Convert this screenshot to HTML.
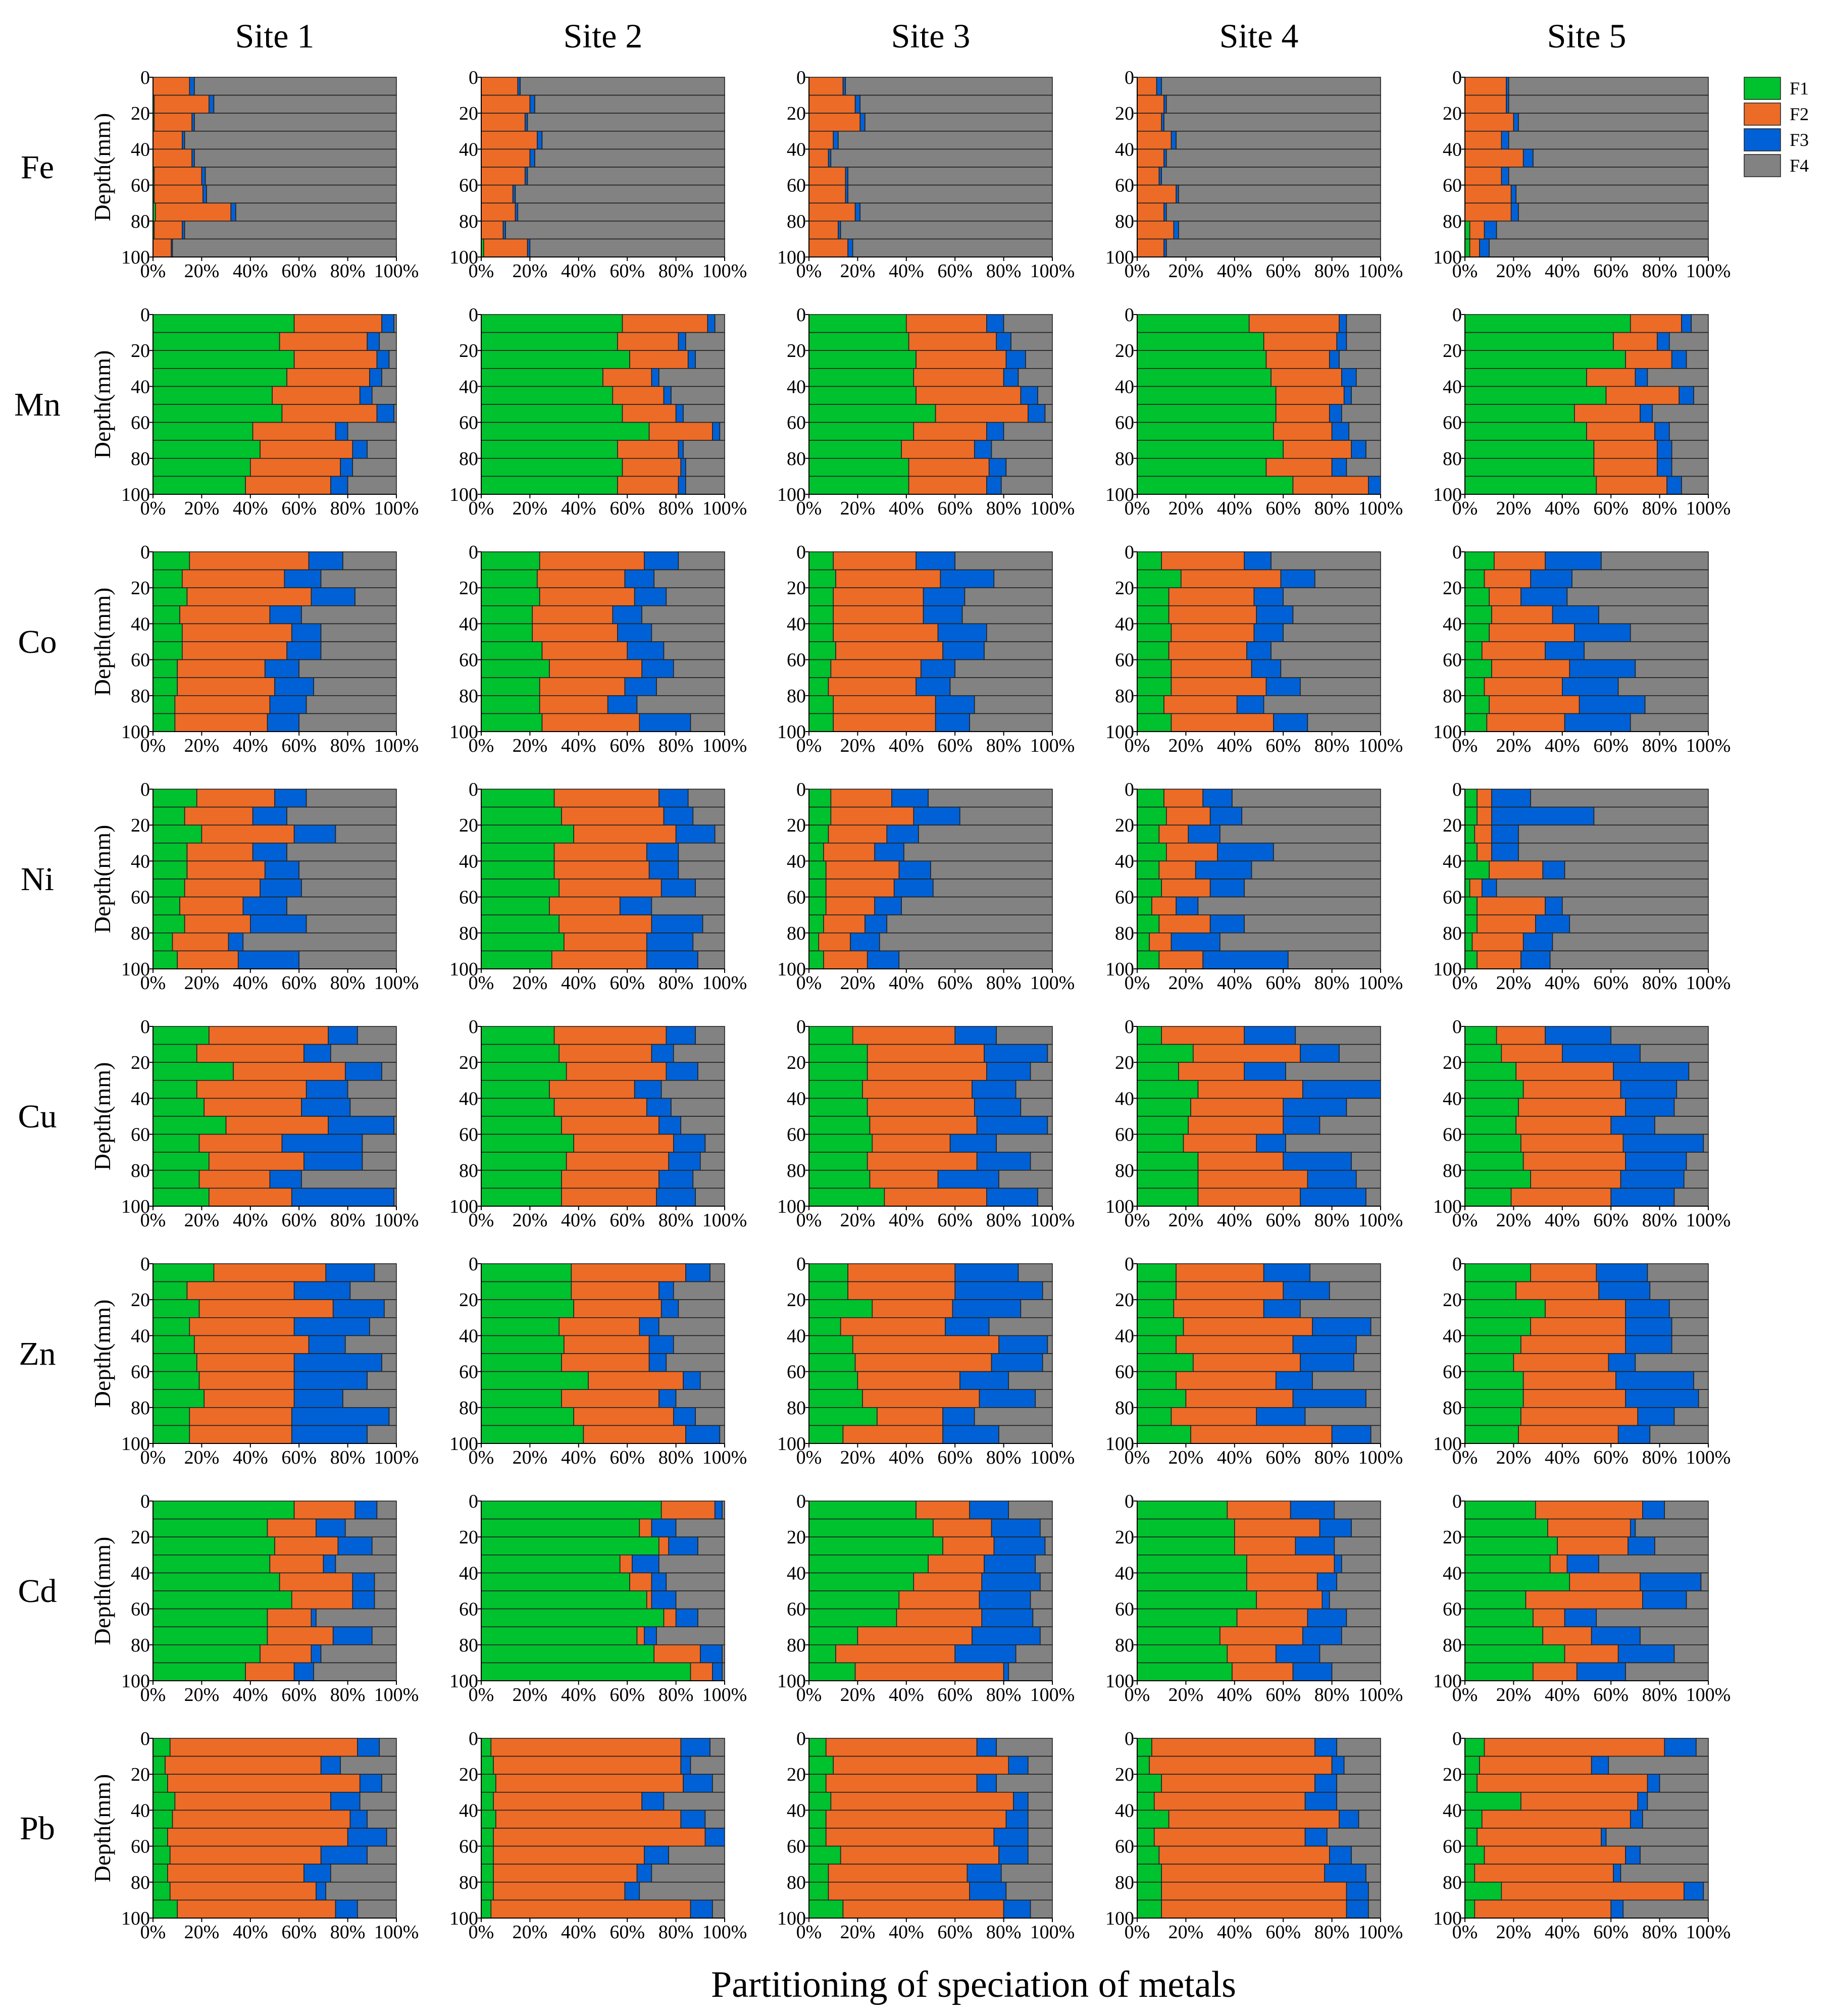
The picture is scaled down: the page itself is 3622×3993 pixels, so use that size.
<!DOCTYPE html>
<html><head><meta charset="utf-8"><style>
html,body{margin:0;padding:0;background:#fff;}
svg{display:block;font-family:"Liberation Serif",serif;}
</style></head><body>
<svg id="chart" width="3622" height="3993" viewBox="0 0 3622 3993" xmlns="http://www.w3.org/2000/svg"></svg>
<script>
// Cumulative percentages per bar: [end of F1, end of F2, end of F3]; F4 fills to 100%
const sites = ["Site 1","Site 2","Site 3","Site 4","Site 5"];
const metals = ["Fe","Mn","Co","Ni","Cu","Zn","Cd","Pb"];
const depthTicks = [0,20,40,60,80,100];
const pctTicks = ["0%","20%","40%","60%","80%","100%"];
const fractions = ["F1","F2","F3","F4"];
const fe = [
 [[0,15,17],[0.5,23,25],[0.5,16,17],[0,12,13],[0,16,17],[0.5,20,21.5],[0.5,20.5,22],[1,32,34],[0.5,12,13],[0,7.5,8]],
 [[0,15,16],[0,20,22],[0,18,19],[0,23,25],[0,20,22],[0,18,19],[0,13,14],[0,14,15],[0,9,10],[1,19,20]],
 [[0,14,15],[0,19,21],[0,21,23],[0,10,12],[0,8,9],[0,15,16],[0,15,16],[0,19,21],[0,12,13],[0,16,18]],
 [[0,8,10],[0,11,12],[0,10,11],[0,14,16],[0,11,12],[0,9,10],[0,16,17],[0,11,12],[0,15,17],[0,11,12]],
 [[0,17,18],[0,17,18],[0,20,22],[0,15,18],[0,24,28],[0,15,18],[0,19,21],[0,19,22],[2,8,13],[2,6,10]]];
const mn = [
 [[58,94,99],[52,88,93],[58,92,97],[55,89,94],[49,85,90],[53,92,99],[41,75,80],[44,82,88],[40,77,82],[38,73,80]],
 [[58,93,96],[56,81,84],[61,85,88],[50,70,73],[54,75,78],[58,80,83],[69,95,98],[56,81,83],[58,82,84],[56,81,84]],
 [[40,73,80],[41,77,83],[44,81,89],[43,80,86],[44,87,94],[52,90,97],[43,73,80],[38,68,75],[41,74,81],[41,73,79]],
 [[46,83,86],[52,82,86],[53,79,83],[55,84,90],[57,85,88],[57,79,84],[56,80,87],[60,88,94],[53,80,86],[64,95,100]],
 [[68,89,93],[61,79,84],[66,85,91],[50,70,75],[58,88,94],[45,72,77],[50,78,84],[53,79,85],[53,79,85],[54,83,89]]];
const co = [
 [[15,64,78],[12,54,69],[14,65,83],[11,48,61],[12,57,69],[12,55,69],[10,46,60],[10,50,66],[9,48,63],[9,47,60]],
 [[24,67,81],[23,59,71],[24,63,76],[21,54,66],[21,56,70],[25,60,75],[28,66,79],[24,59,72],[24,52,64],[25,65,86]],
 [[10,44,60],[11,54,76],[10,47,64],[10,47,63],[10,53,73],[11,55,72],[9,46,60],[8,44,58],[10,52,68],[10,52,66]],
 [[10,44,55],[18,59,73],[13,48,60],[13,49,64],[14,48,60],[13,45,55],[14,47,59],[14,53,67],[11,41,52],[14,56,70]],
 [[12,33,56],[8,27,44],[10,23,42],[11,36,55],[10,45,68],[7,33,49],[11,43,70],[8,40,63],[10,47,74],[9,41,68]]];
const ni = [
 [[18,50,63],[13,41,55],[20,58,75],[14,41,55],[14,46,60],[13,44,61],[11,37,55],[13,40,63],[8,31,37],[10,35,60]],
 [[30,73,85],[33,75,87],[38,80,96],[30,68,81],[30,69,81],[32,74,88],[28,57,70],[32,70,91],[34,68,87],[29,68,89]],
 [[9,34,49],[9,43,62],[8,32,45],[6,27,39],[7,37,50],[7,35,51],[7,27,38],[6,23,32],[4,17,29],[6,24,37]],
 [[11,27,39],[12,30,43],[9,21,34],[12,33,56],[9,24,47],[10,30,44],[6,16,25],[9,30,44],[5,14,34],[9,27,62]],
 [[5,11,27],[5,11,53],[4,11,22],[5,11,22],[10,32,41],[2,7,13],[5,33,40],[5,29,43],[3,24,36],[5,23,35]]];
const cu = [
 [[23,72,84],[18,62,73],[33,79,94],[18,63,80],[21,61,81],[30,72,99],[19,53,86],[23,62,86],[19,48,61],[23,57,99]],
 [[30,76,88],[32,70,79],[35,76,89],[28,63,74],[30,68,78],[33,73,82],[38,79,92],[35,77,90],[33,73,87],[33,72,88]],
 [[18,60,77],[24,72,98],[24,73,91],[22,67,85],[24,68,87],[25,69,98],[26,58,77],[24,69,91],[25,53,78],[31,73,94]],
 [[10,44,65],[23,67,83],[17,44,61],[25,68,100],[22,60,86],[21,60,75],[19,49,61],[25,60,88],[25,70,90],[25,67,94]],
 [[13,33,60],[15,40,72],[21,61,92],[24,64,87],[22,66,86],[21,60,78],[23,65,98],[24,66,91],[27,64,90],[19,60,86]]];
const zn = [
 [[25,71,91],[14,58,81],[19,74,95],[15,58,89],[17,64,79],[18,58,94],[19,58,88],[21,58,78],[15,57,97],[15,57,88]],
 [[37,84,94],[37,73,79],[38,74,81],[32,65,73],[34,69,79],[33,69,76],[44,83,90],[33,73,80],[38,79,88],[42,84,98]],
 [[16,60,86],[16,60,96],[26,59,87],[13,56,74],[18,78,98],[19,75,96],[20,62,82],[22,70,93],[28,55,68],[14,55,78]],
 [[16,52,71],[16,60,79],[15,52,67],[19,72,96],[16,64,90],[23,67,89],[16,57,72],[20,64,94],[14,49,69],[22,80,96]],
 [[27,54,75],[21,55,76],[33,66,84],[27,66,85],[23,66,85],[20,59,70],[24,62,94],[24,66,96],[23,71,86],[22,63,76]]];
const cd = [
 [[58,83,92],[47,67,79],[50,76,90],[48,70,75],[52,82,91],[57,82,91],[47,65,67],[47,74,90],[44,65,69],[38,58,66]],
 [[74,96,99],[65,70,80],[73,77,89],[57,62,73],[61,70,76],[68,70,80],[75,80,89],[64,67,72],[71,90,99],[86,95,99]],
 [[44,66,82],[51,75,95],[55,76,97],[49,72,93],[43,71,95],[37,70,91],[36,71,92],[20,67,95],[11,60,85],[19,80,82]],
 [[37,63,81],[40,75,88],[40,65,81],[45,81,84],[45,74,82],[49,76,79],[41,70,86],[34,68,84],[37,57,75],[39,64,80]],
 [[29,73,82],[34,68,70],[38,67,78],[35,42,55],[43,72,97],[25,73,91],[28,41,54],[32,52,72],[41,63,86],[28,46,66]]];
const pb = [
 [[7,84,93],[5,69,77],[6,85,94],[9,73,85],[8,81,88],[6,80,96],[7,69,88],[6,62,73],[7,67,71],[10,75,84]],
 [[4,82,94],[5,82,86],[6,83,95],[5,66,75],[6,82,92],[5,92,100],[5,67,77],[5,64,70],[5,59,65],[4,86,95]],
 [[7,69,77],[10,82,90],[7,69,77],[9,84,90],[7,81,90],[7,76,90],[13,78,90],[8,65,79],[8,66,81],[14,80,91]],
 [[6,73,82],[5,80,85],[10,73,82],[7,69,82],[13,83,91],[7,69,78],[9,79,88],[10,77,94],[10,86,95],[10,86,95]],
 [[8,82,95],[6,52,59],[5,75,80],[23,71,75],[7,68,73],[5,56,58],[8,66,72],[4,61,64],[15,90,98],[4,60,65]]];
const allData = [fe,mn,co,ni,cu,zn,cd,pb];

const colors = ["#00c12e","#ec6b27","#0061d6","#828282"];
const NS = "http://www.w3.org/2000/svg";
const svg = document.getElementById("chart");
const colX = [303,953,1602,2252,2901];
const PW = 482, PH = 356, ROW0 = 153, ROWSTEP = 470;
function mk(tag, attrs, parent){const e=document.createElementNS(NS,tag);for(const k in attrs)e.setAttribute(k,attrs[k]);(parent||svg).appendChild(e);return e;}
function xScale(s,p){return colX[s] + p/100*PW;}
function yScale(r,d){return ROW0 + r*ROWSTEP + d/100*PH;}

sites.forEach((s,i)=>{
  const t = mk("text",{x:colX[i]+PW/2,y:94,"text-anchor":"middle","font-size":68});
  t.textContent = s;
  
  
});

metals.forEach((m,r)=>{
  const top = yScale(r,0), bot = yScale(r,100);
  const ml = mk("text",{x:74,y:top+PH/2+22,"text-anchor":"middle","font-size":66});
  ml.textContent = m;
  
  
  const yl = mk("text",{x:0,y:0,"text-anchor":"middle","font-size":46,transform:`translate(218,${top+PH/2}) rotate(-90)`});
  yl.textContent = "Depth(mm)";
  
  
  for(let s=0;s<5;s++){
    const g = mk("g",{});
    
    
    const bars = allData[r][s];
    const bh = PH/bars.length;
    bars.forEach((b,k)=>{
      const ends = [b[0],b[1],b[2],100];
      let prev = 0;
      ends.forEach((e,f)=>{
        const x1 = xScale(s,prev), x2 = xScale(s,e);
        if(x2-x1>0.01){
          const rc = mk("rect",{x:x1,y:yScale(r,0)+k*bh,width:x2-x1,height:bh,fill:colors[f],stroke:"#222",
            "stroke-width":1.6},g);
          
          
        }
        prev = e;
      });
    });
    mk("line",{x1:colX[s],y1:top,x2:colX[s],y2:bot+8,stroke:"#000","stroke-width":2},g);
    mk("line",{x1:colX[s],y1:bot,x2:colX[s]+PW,y2:bot,stroke:"#000","stroke-width":2},g);
    depthTicks.forEach(d=>{
      const y = yScale(r,d);
      mk("line",{x1:colX[s]-7,y1:y,x2:colX[s],y2:y,stroke:"#000","stroke-width":2},g);
      const t = mk("text",{x:colX[s]-6,y:y+13,"text-anchor":"end","font-size":38},g);
      t.textContent = d;
      
      
    });
    pctTicks.forEach((p,i)=>{
      const x = xScale(s,i*20);
      mk("line",{x1:x,y1:bot,x2:x,y2:bot+8,stroke:"#000","stroke-width":2},g);
      const t = mk("text",{x:x,y:bot+40,"text-anchor":"middle","font-size":38},g);
      t.textContent = p;
      
      
    });
  }
});

const lg = mk("g",{});


fractions.forEach((f,i)=>{
  const y = 153 + i*51;
  const rc = mk("rect",{x:3454,y:y,width:72,height:44,fill:colors[i],stroke:"#222","stroke-width":1.5},lg);
  
  
  const t = mk("text",{x:3544,y:y+34,"font-size":36},lg);
  t.textContent = f;
  
  
});

const bt = mk("text",{x:1928,y:3955,"text-anchor":"middle","font-size":74});
bt.textContent = "Partitioning of speciation of metals";


</script>
</body></html>
